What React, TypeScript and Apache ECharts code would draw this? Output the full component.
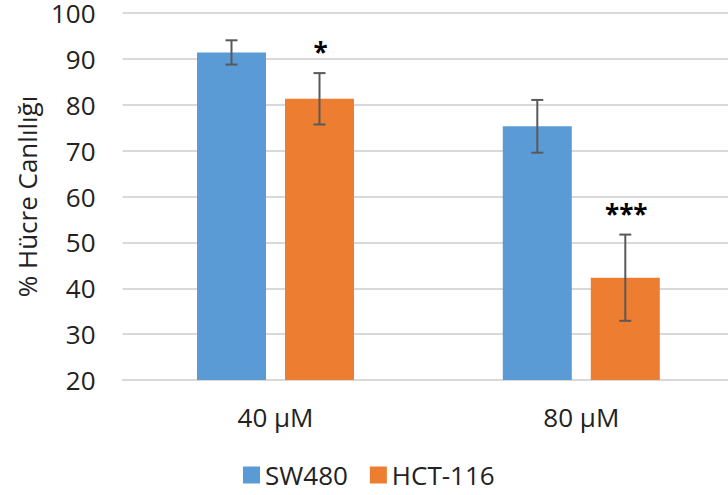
import React, { useEffect, useRef } from "react";
import * as echarts from "echarts";

const categories = ["40 µM", "80 µM"];
const seriesNames = ["SW480", "HCT-116"];
const sw480Values = [91.4, 75.3];
const sw480Errors = [2.65, 5.75];
const hct116Values = [81.3, 42.3];
const hct116Errors = [5.6, 9.4];
const sw480Sig = ["", ""];
const hct116Sig = ["*", "***"];
const yTicks = { min: 20, max: 100, interval: 10 };

const FONT = "'Open Sans', 'Noto Sans', sans-serif";
const BAR_W = 69;
const GAP_PX = 19;
const COLORS = ["#5B9BD5", "#ED7D31"];

function errorSeries(name: string, values: number[], errors: number[], sig: string[], offset: number) {
  const data = values.map((v, i) => [i, v - errors[i], v + errors[i], sig[i]]);
  return {
    type: "custom",
    name: name + "-err",
    z: 10,
    silent: true,
    encode: { x: 0, y: [1, 2] },
    data,
    renderItem: (params: any, api: any) => {
      const i = api.value(0);
      const lo = api.coord([i, api.value(1)]);
      const hi = api.coord([i, api.value(2)]);
      const x = lo[0] + offset;
      const cap = 6;
      const style = { stroke: "#595959", lineWidth: 2 };
      const label = data[params.dataIndex][3] as string;
      const children: any[] = [
        { type: "line", shape: { x1: x, y1: hi[1], x2: x, y2: lo[1] }, style },
        { type: "line", shape: { x1: x - cap, y1: hi[1], x2: x + cap, y2: hi[1] }, style },
        { type: "line", shape: { x1: x - cap, y1: lo[1], x2: x + cap, y2: lo[1] }, style },
      ];
      if (label) {
        children.push({
          type: "text",
          style: {
            text: label,
            x: x + 1,
            y: hi[1] - 21,
            align: "center",
            verticalAlign: "middle",
            fill: "#000",
            font: `bold 26px ${FONT}`,
          },
        });
      }
      return { type: "group", children };
    },
  };
}

export default function App() {
  const ref = useRef<HTMLDivElement>(null);
  useEffect(() => {
    if (!ref.current) return;
    const chart = echarts.init(ref.current, null, { renderer: "svg" });
    const off = (BAR_W + GAP_PX) / 2;
    chart.setOption({
      animation: false,
      backgroundColor: "#fff",
      textStyle: { fontFamily: FONT },
      grid: { left: 122.6, top: 10.5, width: 611.6, height: 369.5 },
      legend: {
        data: seriesNames,
        left: 243,
        top: 462,
        padding: 0,
        icon: "rect",
        itemWidth: 17,
        itemHeight: 17,
        itemGap: 22,
        textStyle: { fontSize: 26, lineHeight: 26, color: "#222", fontFamily: FONT },
      },
      xAxis: {
        type: "category",
        data: categories,
        axisLine: { show: true, lineStyle: { color: "#D9D9D9", width: 2 } },
        axisTick: { show: false },
        axisLabel: { fontSize: 26, color: "#222", margin: 24, fontFamily: FONT },
      },
      yAxis: {
        type: "value",
        min: yTicks.min,
        max: yTicks.max,
        interval: yTicks.interval,
        name: "% Hücre Canlılığı",
        nameLocation: "middle",
        nameGap: 82,
        nameTextStyle: { fontSize: 26, color: "#222", fontFamily: FONT },
        axisLine: { show: false },
        axisTick: { show: false },
        axisLabel: { fontSize: 26, lineHeight: 20, color: "#222", margin: 27, fontFamily: FONT },
        splitLine: { lineStyle: { color: "#D9D9D9", width: 2 } },
      },
      series: [
        {
          type: "bar",
          name: seriesNames[0],
          data: sw480Values,
          barWidth: BAR_W,
          barGap: (GAP_PX / BAR_W) * 100 + "%",
          itemStyle: { color: COLORS[0] },
        },
        {
          type: "bar",
          name: seriesNames[1],
          data: hct116Values,
          barWidth: BAR_W,
          barGap: (GAP_PX / BAR_W) * 100 + "%",
          itemStyle: { color: COLORS[1] },
        },
        errorSeries(seriesNames[0], sw480Values, sw480Errors, sw480Sig, -off),
        errorSeries(seriesNames[1], hct116Values, hct116Errors, hct116Sig, off),
      ],
    });
    return () => chart.dispose();
  }, []);
  return (
    <div
      style={{ position: "absolute", left: 0, top: 0, width: 728, height: 495, overflow: "hidden", background: "#fff" }}
    >
      <div ref={ref} style={{ width: 740, height: 495 }} />
    </div>
  );
}
